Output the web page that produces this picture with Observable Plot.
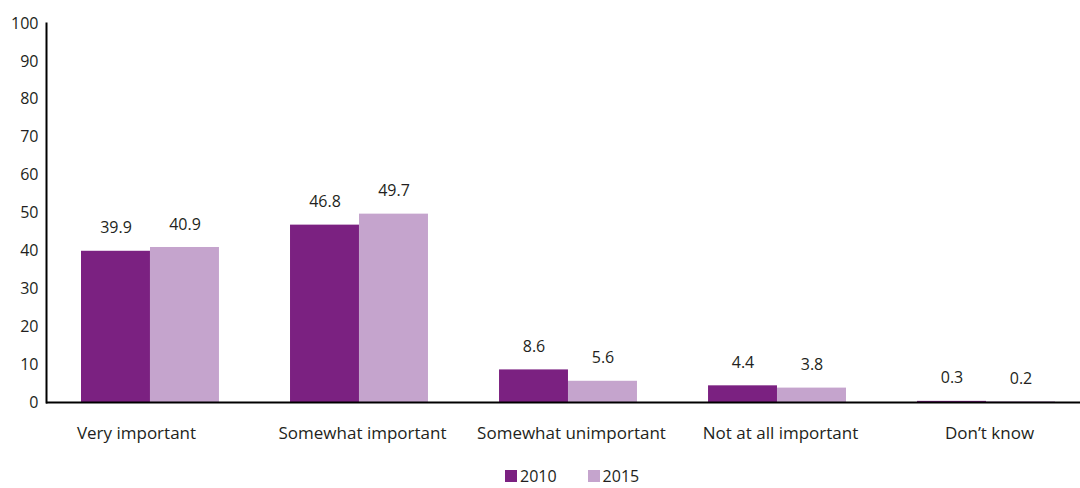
<!DOCTYPE html>
<html>
<head>
<meta charset="utf-8">
<script src="https://cdn.jsdelivr.net/npm/d3@7"></script>
<script src="https://cdn.jsdelivr.net/npm/@observablehq/plot@0.6"></script>
<style>
  body { margin: 0; background: #fff; font-family: "Open Sans", sans-serif; color: #231f20; }
  #chart { width: 1080px; }
  .legend { height: 33px; position: relative; font-size: 16px; }
  .legend .items { position: absolute; left: 505px; top: 13px; display: flex; align-items: center; line-height: 16px; }
  .legend .sw { width: 12px; height: 12px; display: inline-block; margin-right: 3px; }
  .legend .item { display: flex; align-items: center; margin-right: 31px; }
</style>
</head>
<body>
<div id="chart"></div>
<script>
const categories = ["Very important", "Somewhat important", "Somewhat unimportant", "Not at all important", "Don’t know"];
const years = ["2010", "2015"];
const values2010 = [39.9, 46.8, 8.6, 4.4, 0.3];
const values2015 = [40.9, 49.7, 5.6, 3.8, 0.2];
const yTicks = [0, 10, 20, 30, 40, 50, 60, 70, 80, 90, 100];
const colors = ["#7b2181", "#c5a4cd"];

const rows2010 = categories.map((c, i) => ({category: c, year: "2010", value: values2010[i]}));
const rows2015 = categories.map((c, i) => ({category: c, year: "2015", value: values2015[i]}));

// each year's bar takes half of the category band
const half = 69;
const xAxisStyle = {tickSize: 0, tickPadding: 24, fontSize: 17, label: null};

const chart = Plot.plot({
  width: 1080,
  height: 455,
  marginTop: 23,
  marginBottom: 53,
  marginLeft: 46,
  marginRight: 0,
  style: {fontFamily: "'Open Sans', sans-serif", fontSize: "16px", color: "#231f20", background: "#fff"},
  x: {
    type: "band",
    domain: categories,
    range: [46, 1090],
    paddingInner: 0.34,
    paddingOuter: 0.1675,
    round: false
  },
  y: {
    domain: [0, 100],
    ticks: yTicks,
    tickSize: 0,
    tickPadding: 8,
    label: null
  },
  marks: [
    Plot.barY(rows2010, {x: "category", y: "value", fill: colors[0], insetRight: half}),
    Plot.barY(rows2015, {x: "category", y: "value", fill: colors[1], insetLeft: half}),
    Plot.text(rows2010, {x: "category", y: "value", text: d => d.value.toFixed(1), dx: -half / 2, dy: -23}),
    Plot.text(rows2015, {x: "category", y: "value", text: d => d.value.toFixed(1), dx: half / 2, dy: -23}),
    Plot.axisX({...xAxisStyle, ticks: categories.slice(0, 1), dx: -14}),
    Plot.axisX({...xAxisStyle, ticks: categories.slice(1), dx: 3}),
    Plot.ruleY([0], {stroke: "#000", strokeWidth: 2}),
    Plot.frame({anchor: "left", stroke: "#000", strokeWidth: 2})
  ]
});
document.getElementById("chart").appendChild(chart);

// legend below the chart
const legend = document.createElement("div");
legend.className = "legend";
const items = document.createElement("div");
items.className = "items";
years.forEach((y, i) => {
  const it = document.createElement("span");
  it.className = "item";
  const sw = document.createElement("span");
  sw.className = "sw";
  sw.style.background = colors[i];
  it.appendChild(sw);
  it.appendChild(document.createTextNode(y));
  items.appendChild(it);
});
legend.appendChild(items);
document.getElementById("chart").appendChild(legend);
</script>
</body>
</html>
